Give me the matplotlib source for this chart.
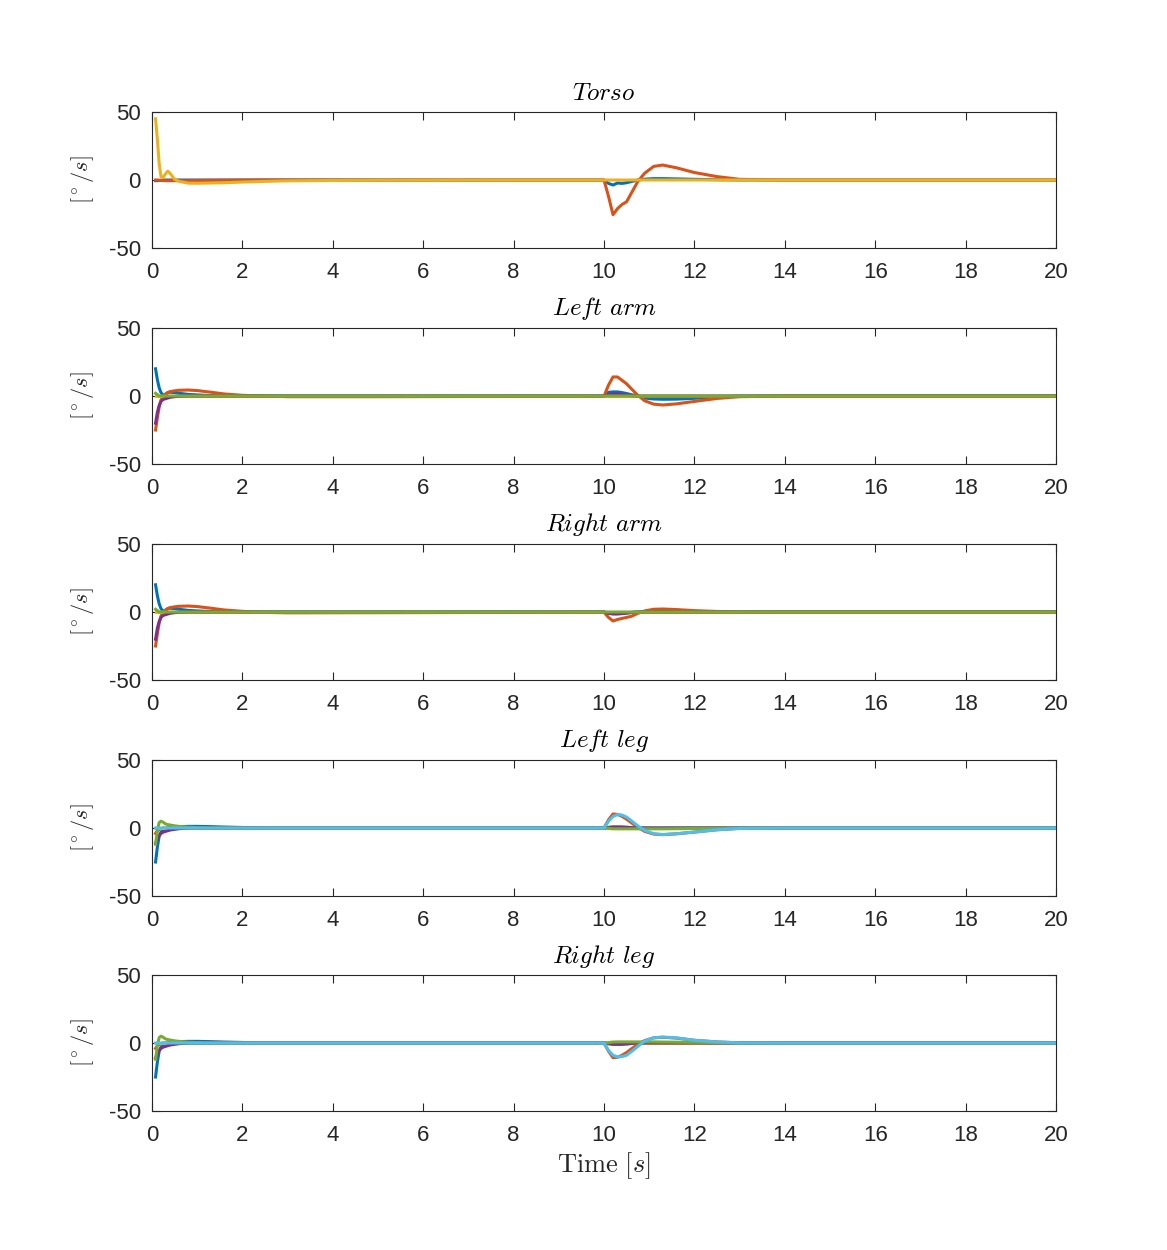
import matplotlib
matplotlib.use("Agg")
import matplotlib.pyplot as plt

# MATLAB default colour order
C_BLUE = "#0072BD"
C_ORANGE = "#D95319"
C_YELLOW = "#EDB120"
C_PURPLE = "#7E2F8E"
C_GREEN = "#77AC30"
C_CYAN = "#4DBEEE"

# shared time samples [s]
t = [0.08, 0.12, 0.16, 0.2, 0.25, 0.3, 0.35, 0.4, 0.5, 0.6, 0.8, 1.0, 1.3, 1.6,
     2.0, 2.5, 3.0, 5.0, 8.0, 10.0, 10.1, 10.2, 10.3, 10.4, 10.5, 10.6, 10.75,
     10.9, 11.1, 11.3, 11.6, 12.0, 12.5, 13.0, 14.0, 20.0]

# Torso
torso_blue = [-0.5, -0.5, -0.3, -0.2, 0, 0, 0, 0, 0, 0, 0, 0, 0, 0,
              0, 0, 0, 0, 0, 0, -2.5, -3.7, -2.2, -2.5, -2.0, -1.2, 0,
              0.6, 1.0, 1.0, 0.8, 0.5, 0.2, 0, 0, 0]
torso_orange = [0, 0, -0.2, -0.3, -0.4, -0.5, -0.5, -0.5, -0.5, -0.5, -0.5, -0.4, -0.3, -0.2,
                -0.1, 0, 0, 0, 0, 0, -12, -25.5, -21, -18, -16, -10, -1,
                5, 10, 11, 9, 5.5, 2.5, 0.5, 0, 0]
torso_yellow = [45, 30, 12, 2.5, 2, 4.5, 6.5, 5, 0.5, -1, -2.3, -2.4, -2.2, -2.0,
                -1.5, -1.0, -0.6, -0.1, 0, 0, 0, 0, 0, 0, 0, 0, 0,
                0, 0, 0, 0, 0, 0, 0, 0, 0]

# Left arm
larm_blue = [20, 12, 6, 2.5, 0.5, 1.0, 2.5, 2.8, 2.5, 2.0, 1.2, 0.8, 0.3, 0,
             0, 0, 0, 0, 0, 0, 2.7, 3.0, 3.0, 2.5, 1.8, 1.0, 0,
             -1.5, -2.2, -2.4, -2.3, -1.7, -0.6, -0.1, 0, 0]
larm_orange = [-25, -16, -8, -3, 0, 1.5, 2.5, 3.2, 3.8, 4.2, 4.4, 4.0, 2.8, 1.5,
               0.5, 0, -0.5, -0.5, -0.3, -0.2, 8, 14, 14, 11.5, 9, 5.5, 0.5,
               -3.5, -6, -6.6, -5.8, -4, -1.8, -0.5, 0, 0]
larm_yellow = [0] * 36
larm_purple = [-20, -12, -7, -4, -2.5, -2, -1.5, -1, -0.5, -0.2, 0, 0, 0, 0,
               0, 0, 0, 0, 0, 0, 1.0, 1.5, 1.5, 1.2, 0.8, 0.3, 0,
               0, 0, 0, 0, 0, 0, 0, 0, 0]
larm_green = [2, 1, 0, 0, 0, 0, 0, 0, 0, 0, 0, 0, 0, 0,
              0, 0, 0, 0, 0, 0, 0, 0, 0, 0, 0, 0, 0,
              0, 0, 0, 0, 0, 0, 0, 0, 0]

# Right arm
rarm_blue = [20, 12, 6, 2.5, 0.5, 1.0, 2.5, 2.8, 2.5, 2.0, 1.2, 0.8, 0.3, 0,
             0, 0, 0, 0, 0, 0, -0.5, -1.0, -1.0, -0.9, -0.8, -0.4, 0,
             0.3, 0.5, 0.5, 0.4, 0.2, 0.1, 0, 0, 0]
rarm_orange = [-25, -16, -8, -3, 0, 1.5, 2.5, 3.2, 3.8, 4.2, 4.4, 4.0, 2.8, 1.5,
               0.5, -0.3, -0.6, -0.5, -0.3, -0.2, -4, -6.6, -5.5, -4.7, -4, -3.2, -1,
               0.8, 2.0, 2.2, 1.8, 1.0, 0.4, 0.1, 0, 0]
rarm_yellow = [0] * 36
rarm_purple = [-20, -12, -7, -4, -2.5, -2, -1.5, -1, -0.5, -0.2, 0, 0, 0, 0,
               0, 0, 0, 0, 0, 0, -1.0, -1.5, -1.5, -1.2, -0.8, -0.3, 0,
               0, 0, 0, 0, 0, 0, 0, 0, 0]
rarm_green = [2, 1, 0, 0, 0, 0, 0, 0, 0, 0, 0, 0, 0, 0,
              0, 0, 0, 0, 0, 0, 0, 0, 0, 0, 0, 0, 0,
              0, 0, 0, 0, 0, 0, 0, 0, 0]

# Left leg
lleg_blue = [-25, -14, -6, -3, -1.5, -0.5, 0, 0.3, 0.8, 1.0, 1.2, 1.2, 1.0, 0.7,
             0.4, 0.1, 0, 0, 0, 0, 0.3, 0.5, 0.5, 0.4, 0.3, 0.1, 0,
             0, 0, 0, 0, 0, 0, 0, 0, 0]
lleg_orange = [-4, -2, -1, -0.5, 0, 0, 0, 0, 0, 0, 0, 0, 0, 0,
               0, 0, 0, 0, 0, 0, 6, 10.3, 10, 8.5, 6.5, 4, 0.5,
               -2.5, -4.5, -4.9, -4.3, -3, -1.3, -0.3, 0, 0]
lleg_yellow = [0] * 36
lleg_purple = [-11, -8, -5.5, -4, -3, -2.5, -2, -1.5, -1, -0.5, 0, 0, 0, 0,
               0, 0, 0, 0, 0, 0, 0.5, 0.8, 0.8, 0.8, 0.6, 0.3, 0,
               0, 0, 0, 0, 0, 0, 0, 0, 0]
lleg_green = [-12, -2, 4, 5, 4.2, 3, 2.5, 2.2, 1.6, 1.2, 0.6, 0.3, 0, 0,
              0, 0, 0, 0, 0, 0, -0.3, -0.6, -0.6, -0.6, -0.6, -0.6, -0.6,
              -0.6, -0.6, -0.6, -0.5, -0.4, -0.3, 0, 0, 0]
lleg_cyan = [0, 0, 0, 0, 0, 0, 0, 0, 0, 0, 0, 0, 0, 0,
             0, 0, 0, 0, 0, 0, 5, 8.5, 9.9, 9.5, 8, 5.5, 1.5,
             -1.8, -4.2, -4.8, -4.2, -3, -1.3, -0.3, 0, 0]

# Right leg
rleg_blue = [-25, -14, -6, -3, -1.5, -0.5, 0, 0.3, 0.8, 1.0, 1.2, 1.2, 1.0, 0.7,
             0.4, 0.1, 0, 0, 0, 0, -0.3, -0.5, -0.5, -0.4, -0.3, -0.1, 0,
             0, 0, 0, 0, 0, 0, 0, 0, 0]
rleg_orange = [-4, -2, -1, -0.5, 0, 0, 0, 0, 0, 0, 0, 0, 0, 0,
               0, 0, 0, 0, 0, 0, -6, -10.8, -10.5, -9, -7, -4.5, -1,
               1.8, 3.8, 4.2, 3.6, 2, 0.8, 0.1, 0, 0]
rleg_yellow = [0] * 36
rleg_purple = [-11, -8, -5.5, -4, -3, -2.5, -2, -1.5, -1, -0.5, 0, 0, 0, 0,
               0, 0, 0, 0, 0, 0, -0.6, -1.0, -1.0, -1.0, -0.8, -0.4, 0,
               0, 0, 0, 0, 0, 0, 0, 0, 0]
rleg_green = [-12, -2, 4, 5, 4.2, 3, 2.5, 2.2, 1.6, 1.2, 0.6, 0.3, 0, 0,
              0, 0, 0, 0, 0, 0, 0.3, 0.7, 0.8, 0.8, 0.8, 0.8, 0.8,
              0.8, 0.8, 0.7, 0.6, 0.5, 0.3, 0, 0, 0]
rleg_cyan = [0, 0, 0, 0, 0, 0, 0, 0, 0, 0, 0, 0, 0, 0,
             0, 0, 0, 0, 0, 0, -5.5, -9, -10.3, -10, -9, -6.5, -2.5,
             1.5, 3.8, 4.4, 3.8, 2, 0.8, 0.1, 0, 0]

titles = ["Torso", "Left\\ arm", "Right\\ arm", "Left\\ leg", "Right\\ leg"]
panels = [
    [(torso_blue, C_BLUE), (torso_orange, C_ORANGE), (torso_yellow, C_YELLOW)],
    [(larm_blue, C_BLUE), (larm_orange, C_ORANGE), (larm_yellow, C_YELLOW),
     (larm_purple, C_PURPLE), (larm_green, C_GREEN)],
    [(rarm_blue, C_BLUE), (rarm_orange, C_ORANGE), (rarm_yellow, C_YELLOW),
     (rarm_purple, C_PURPLE), (rarm_green, C_GREEN)],
    [(lleg_blue, C_BLUE), (lleg_orange, C_ORANGE), (lleg_yellow, C_YELLOW),
     (lleg_purple, C_PURPLE), (lleg_green, C_GREEN), (lleg_cyan, C_CYAN)],
    [(rleg_blue, C_BLUE), (rleg_orange, C_ORANGE), (rleg_yellow, C_YELLOW),
     (rleg_purple, C_PURPLE), (rleg_green, C_GREEN), (rleg_cyan, C_CYAN)],
]

plt.rcParams["mathtext.fontset"] = "cm"
plt.rcParams["font.family"] = ["Liberation Sans", "DejaVu Sans"]
plt.rcParams["axes.unicode_minus"] = False

fig = plt.figure(figsize=(11.67, 12.5), dpi=100)
ax_color = "#262626"
bottoms = [0.8016, 0.6288, 0.456, 0.2832, 0.1112]

for i, (title, series) in enumerate(zip(titles, panels)):
    ax = fig.add_axes([0.1302, bottoms[i], 0.7747, 0.1088])
    for vals, col in series:
        ax.plot(t, vals, color=col, lw=2.2)
    ax.set_xlim(0, 20)
    ax.set_ylim(-50, 50)
    ax.set_xticks(range(0, 21, 2))
    ax.set_yticks([-50, 0, 50])
    ax.tick_params(direction="in", top=True, right=True, length=6,
                   labelsize=16, colors=ax_color)
    ax.tick_params(axis="x", pad=10)
    ax.tick_params(axis="y", pad=8)
    for sp in ax.spines.values():
        sp.set_color(ax_color)
        sp.set_linewidth(0.8)
    ax.set_title(r"$%s$" % title, fontsize=18, pad=9, color="black")
    ax.set_ylabel(r"$[^\circ/s]$", fontsize=16, color=ax_color, labelpad=9)
    if i == 4:
        ax.set_xlabel(r"$\mathrm{Time}\ [s]$", fontsize=19, color=ax_color,
                      labelpad=3)

fig.savefig("out.png", dpi=100)
